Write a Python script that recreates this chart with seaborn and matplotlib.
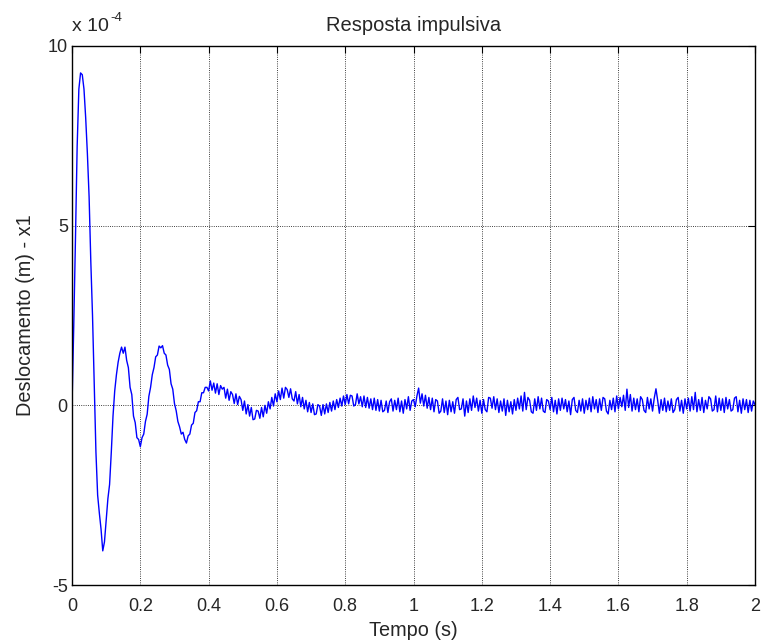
import matplotlib
matplotlib.use("Agg")
import matplotlib.pyplot as plt
import numpy as np
import pandas as pd
import seaborn as sns

# sample step of the recorded signal (s)
t_step = 0.005

# displacement x1, in units of 1e-4 m, every 5 ms
x1_early = [
    0.00, 2.20, 4.60, 7.20, 8.80, 9.25, 9.20, 8.80, 8.00, 7.00,
    5.80, 4.00, 2.50, 0.60, -1.30, -2.50, -3.00, -3.45, -4.05, -3.80,
    -3.20, -2.60, -2.20, -1.30, -0.30, 0.40, 0.85, 1.20, 1.45, 1.62,
    1.45, 1.62, 1.25, 1.05, 0.50, 0.30, -0.30, -0.48, -0.90, -0.95,
    -1.15, -0.90, -0.80, -0.45, -0.25, 0.25, 0.50, 0.85, 1.05, 1.35,
    1.40, 1.65, 1.60, 1.66, 1.45, 1.40, 1.12, 1.00, 0.60, 0.45,
    0.05, -0.15, -0.45, -0.60, -0.80, -0.75, -0.95, -1.05, -0.85, -0.80,
    -0.55, -0.50, -0.20, -0.15, 0.10, 0.10, 0.35, 0.35, 0.50, 0.50,
]
x1_middle = [
    0.40, 0.68, 0.42, 0.62, 0.34, 0.60, 0.30, 0.55, 0.45, 0.50,
    0.20, 0.45, 0.14, 0.38, 0.30, 0.05, 0.32, 0.02, 0.25, 0.16,
    -0.14, 0.12, -0.24, 0.02, -0.30, -0.06, -0.40, -0.38, -0.14, -0.16,
    -0.36, -0.06, -0.32, 0.00, -0.22, 0.10, -0.10, 0.22, -0.02, 0.32,
    0.10, 0.40, 0.16, 0.48, 0.20, 0.50, 0.44, 0.22, 0.46, 0.18,
    0.12, 0.38, 0.04, 0.30, -0.04, 0.22, -0.10, 0.14, -0.18, 0.08,
    -0.20, 0.04, -0.26, -0.24, 0.02, -0.02, -0.28, 0.02, -0.24, 0.04,
    -0.20, 0.08, -0.16, 0.12, -0.12, 0.16, -0.06, 0.20, -0.02, 0.26,
    0.02, 0.30, 0.04, 0.28, 0.26, -0.02, 0.02, 0.32, 0.04, 0.24,
    -0.04, 0.26, -0.06, 0.22, -0.08, 0.18, -0.12, 0.20, -0.14, 0.16,
    -0.16, 0.14, -0.18, -0.14, 0.12, -0.20, 0.10, 0.18, -0.16, 0.14,
    -0.12, 0.20, -0.18, 0.12, -0.22, 0.16, -0.10, 0.24, -0.14, 0.12,
]
x1_late = [
    0.16, -0.04, 0.26, 0.48, 0.06, 0.32, -0.02, 0.28, -0.08, 0.22,
    -0.12, 0.20, -0.18, 0.16, 0.12, -0.22, -0.16, 0.18, -0.20, 0.12,
    -0.26, 0.14, -0.18, 0.10, -0.22, 0.16, 0.22, -0.12, -0.10, 0.18,
    -0.30, 0.12, -0.20, 0.18, -0.14, 0.26, -0.06, 0.20, -0.16, 0.14,
    -0.22, 0.16, -0.12, -0.18, 0.22, 0.20, -0.08, 0.24, -0.12, 0.18,
    -0.20, 0.12, -0.16, 0.18, -0.28, 0.14, -0.18, 0.10, -0.24, 0.16,
    -0.14, 0.20, -0.10, 0.26, -0.16, 0.36, -0.12, 0.22, 0.14, -0.18,
    -0.22, 0.18, -0.14, 0.24, -0.10, 0.20, -0.16, -0.20, 0.16, 0.12,
    -0.12, 0.22, -0.18, 0.14, -0.24, 0.18, -0.14, 0.20, -0.10, 0.16,
    -0.18, 0.12, -0.26, 0.16, 0.22, -0.14, -0.20, 0.14, -0.16, 0.18,
    -0.22, 0.14, -0.12, 0.20, -0.18, 0.24, -0.10, 0.16, -0.20, 0.18,
    -0.14, 0.22, 0.18, -0.16, -0.24, 0.14, -0.12, 0.20, -0.18, 0.26,
    -0.10, 0.22, -0.04, 0.28, -0.14, 0.45, -0.06, 0.30, -0.16, 0.20,
    -0.12, 0.18, -0.18, 0.24, 0.16, -0.14, -0.20, 0.22, -0.10, 0.18,
    -0.16, 0.20, 0.46, 0.14, -0.22, 0.16, -0.14, 0.20, -0.18, 0.12,
    -0.14, 0.18, -0.20, -0.12, 0.16, 0.22, -0.16, 0.14, -0.22, 0.18,
    -0.10, 0.20, -0.16, 0.24, -0.12, 0.36, -0.18, 0.16, -0.14, 0.22,
    -0.20, 0.14, -0.10, 0.24, 0.18, -0.16, -0.12, 0.26, -0.18, 0.20,
    -0.14, 0.18, -0.20, 0.22, -0.10, 0.16, -0.16, -0.12, 0.20, 0.24,
    -0.18, 0.14, -0.22, 0.18, -0.12, 0.16, -0.20, 0.14, -0.16, 0.12,
    0.02,
]

x_ticks = [0, 0.2, 0.4, 0.6, 0.8, 1, 1.2, 1.4, 1.6, 1.8, 2]
x_tick_labels = ["0", "0.2", "0.4", "0.6", "0.8", "1", "1.2", "1.4", "1.6", "1.8", "2"]
y_ticks = [-5, 0, 5, 10]

x1 = np.array(x1_early + x1_middle + x1_late)
df = pd.DataFrame({"tempo": np.arange(len(x1)) * t_step, "x1": x1})

sns.set_style("white")
plt.rcParams["font.family"] = ["Liberation Sans", "DejaVu Sans"]
plt.rcParams["axes.unicode_minus"] = False
plt.rcParams["xtick.direction"] = "in"
plt.rcParams["ytick.direction"] = "in"

f = plt.figure(figsize=(7.63, 6.43), dpi=100)
ax = f.add_axes([0.0944, 0.0902, 0.8951, 0.8383])
sns.lineplot(data=df, x="tempo", y="x1", ax=ax, color="#0000ff",
             linewidth=1.0, sort=False, errorbar=None)

ax.set_xlim(0, 2)
ax.set_ylim(-5, 10)
ax.set_xticks(x_ticks)
ax.set_xticklabels(x_tick_labels)
ax.set_yticks(y_ticks)
ax.set_yticklabels(["-5", "0", "5", "10"])
ax.tick_params(labelsize=13, length=5, width=0.8, top=True, right=True, color="black")
ax.tick_params(axis="x", pad=9)
ax.tick_params(axis="y", pad=3)
ax.grid(True, color="black", linestyle=":", linewidth=0.6)
for s in ax.spines.values():
    s.set_visible(True)
    s.set_color("black")
    s.set_linewidth(1.0)

ax.set_title("Resposta impulsiva", fontsize=14.5, pad=11)
ax.set_xlabel("Tempo (s)", fontsize=14.3, labelpad=5)
ax.set_ylabel("Deslocamento (m) - x1", fontsize=14.3, labelpad=9)
ax.text(0.0, 1.02, "x 10", transform=ax.transAxes, fontsize=14,
        ha="left", va="bottom")
ax.text(0.056, 1.04, "-4", transform=ax.transAxes, fontsize=9.5,
        ha="left", va="bottom")

f.savefig("out.png", dpi=100)
plt.close(f)
